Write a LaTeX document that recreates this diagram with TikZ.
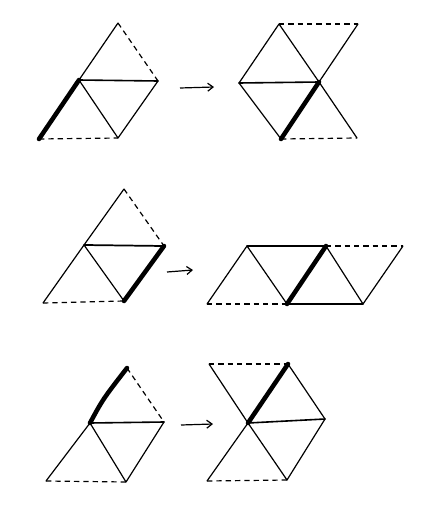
\documentclass[tikz,border=0pt]{standalone}
\usetikzlibrary{arrows.meta}
\begin{document}
\begin{tikzpicture}[x=0.75pt,y=-0.75pt,
  edge/.style={line width=0.9pt,line join=round,line cap=round},
  boldedge/.style={line width=3.4pt,line cap=round},
  dashedge/.style={line width=0.9pt,dash pattern=on 4pt off 3pt},
  arr/.style={line width=0.9pt,-{Straight Barb[length=4pt,width=6pt]}}]
\useasboundingbox (0,0) rectangle (430,525);
% Panel 1
\coordinate (a1) at (118,23);
\coordinate (b1) at (79,80);
\coordinate (c1) at (158,81);
\coordinate (d1) at (39,139);
\coordinate (e1) at (118,138);
\draw[edge] (a1) -- (b1);
\draw[dashedge] (a1) -- (c1);
\draw[edge,line width=1.2pt] (b1) -- (c1);
\draw[boldedge] (b1) -- (d1);
\draw[edge] (b1) -- (e1) -- (c1);
\draw[dashedge] (d1) -- (e1);
% Arrow 1
\coordinate (p1) at (180,88);
\coordinate (q1) at (214,87);
\draw[arr] (p1) -- (q1);
% Panel 2
\coordinate (a2) at (279,24);
\coordinate (b2) at (358,24);
\coordinate (c2) at (239,83);
\coordinate (o2) at (319,82);
\coordinate (d2) at (281,139);
\coordinate (e2) at (357,138);
\draw[dashedge] (a2) -- (b2);
\draw[edge] (c2) -- (a2) -- (o2) -- (b2);
\draw[edge,line width=1.2pt] (c2) -- (o2);
\draw[edge] (c2) -- (d2);
\draw[boldedge] (o2) -- (d2);
\draw[edge] (o2) -- (e2);
\draw[dashedge] (d2) -- (e2);
% Panel 3
\coordinate (a3) at (124,189);
\coordinate (b3) at (84,245);
\coordinate (c3) at (164,246);
\coordinate (d3) at (43,303);
\coordinate (e3) at (124,301);
\draw[edge] (a3) -- (b3) -- (d3);
\draw[dashedge] (a3) -- (c3);
\draw[edge,line width=1.3pt] (b3) -- (c3);
\draw[edge] (b3) -- (e3);
\draw[boldedge] (c3) -- (e3);
\draw[dashedge] (d3) -- (e3);
% Arrow 2
\coordinate (p2) at (167,272);
\coordinate (q2) at (193,270);
\draw[arr] (p2) -- (q2);
% Panel 4
\coordinate (a4) at (247,246);
\coordinate (b4) at (326,246);
\coordinate (c4) at (403,246);
\coordinate (d4) at (207,304);
\coordinate (e4) at (287,304);
\coordinate (f4) at (363,304);
\draw[edge,line width=1.3pt] (a4) -- (b4);
\draw[dashedge] (b4) -- (c4);
\draw[edge] (d4) -- (a4) -- (e4);
\draw[boldedge] (e4) -- (b4);
\draw[edge] (b4) -- (f4) -- (c4);
\draw[dashedge] (d4) -- (e4);
\draw[edge,line width=1.3pt] (e4) -- (f4);
% Panel 5
\coordinate (a5) at (127,368);
\coordinate (o5) at (90,423);
\coordinate (c5) at (164,422);
\coordinate (d5) at (46,481);
\coordinate (e5) at (126,482);
\draw[boldedge] (o5) .. controls (103,399) .. (a5);
\draw[dashedge] (a5) -- (c5);
\draw[edge,line width=1.2pt] (o5) -- (c5);
\draw[edge] (o5) -- (d5);
\draw[edge] (o5) -- (e5) -- (c5);
\draw[dashedge] (d5) -- (e5);
% Arrow 3
\coordinate (p3) at (181,425);
\coordinate (q3) at (213,424);
\draw[arr] (p3) -- (q3);
% Panel 6
\coordinate (a6) at (209,364);
\coordinate (b6) at (288,364);
\coordinate (o6) at (248,423);
\coordinate (c6) at (325,419);
\coordinate (d6) at (207,481);
\coordinate (e6) at (287,480);
\draw[dashedge] (a6) -- (b6);
\draw[edge] (a6) -- (o6);
\draw[boldedge] (o6) -- (b6);
\draw[edge] (b6) -- (c6) -- (e6);
\draw[edge,line width=1.2pt] (o6) -- (c6);
\draw[edge] (o6) -- (d6);
\draw[edge] (o6) -- (e6);
\draw[dashedge] (d6) -- (e6);
\end{tikzpicture}
\end{document}
